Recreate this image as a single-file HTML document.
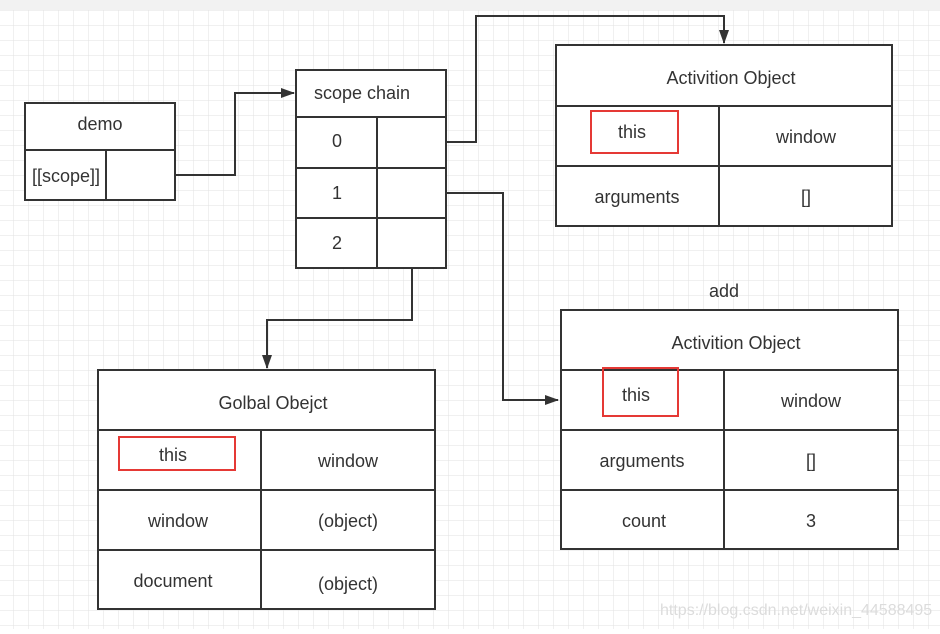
<!DOCTYPE html>
<html><head><meta charset="utf-8"><style>
html,body{margin:0;padding:0;background:#fff}
</style></head><body>
<svg width="940" height="629" xmlns="http://www.w3.org/2000/svg" font-family="Liberation Sans, DejaVu Sans, sans-serif" font-size="18" fill="#333">
<defs>
<pattern id="g" x="13" y="10" width="15" height="15" patternUnits="userSpaceOnUse">
<path d="M0 0H15M0 0V15" stroke="#e2e2e2" stroke-width="1" fill="none"/>
</pattern>
<marker id="a" markerWidth="14" markerHeight="12" refX="13" refY="6" orient="auto" markerUnits="userSpaceOnUse"><path d="M0 1L14 6L0 11Z" fill="#333"/></marker>
</defs>
<rect width="940" height="629" fill="url(#g)"/>
<rect width="940" height="10" fill="#f2f2f2"/>
<g stroke="#333" stroke-width="2" fill="none">
<path d="M175 175H235V93H294" marker-end="url(#a)"/>
<path d="M446 142H476V16H724V43" marker-end="url(#a)"/>
<path d="M446 193H503V400H558" marker-end="url(#a)"/>
<path d="M412 268V320H267V368" marker-end="url(#a)"/>
</g>
<g stroke="#333" stroke-width="2" fill="#fff">
<rect x="25" y="103" width="150" height="97"/>
<path d="M25 150H175M106 150V200"/>
<rect x="296" y="70" width="150" height="198"/>
<path d="M296 117H446M296 168H446M296 218H446M377 117V268"/>
<rect x="556" y="45" width="336" height="181"/>
<path d="M556 106H892M556 166H892M719 106V226"/>
<rect x="561" y="310" width="337" height="239"/>
<path d="M561 370H898M561 430H898M561 490H898M724 370V549"/>
<rect x="98" y="370" width="337" height="239"/>
<path d="M98 430H435M98 490H435M98 550H435M261 430V609"/>
</g>
<g fill="none" stroke="#e53935" stroke-width="2">
<rect x="591" y="111" width="87" height="42"/>
<rect x="603" y="368" width="75" height="48"/>
<rect x="119" y="437" width="116" height="33"/>
</g>
<g text-anchor="middle">
<text x="100" y="130">demo</text>
<text x="66" y="182">[[scope]]</text>
<text x="362" y="99">scope chain</text>
<text x="337" y="147">0</text>
<text x="337" y="199">1</text>
<text x="337" y="249">2</text>
<text x="731" y="84">Activition Object</text>
<text x="632" y="138">this</text>
<text x="806" y="143">window</text>
<text x="637" y="203">arguments</text>
<text x="806" y="203">[]</text>
<text x="724" y="297">add</text>
<text x="736" y="349">Activition Object</text>
<text x="636" y="401">this</text>
<text x="811" y="407">window</text>
<text x="642" y="467">arguments</text>
<text x="811" y="467">[]</text>
<text x="644" y="527">count</text>
<text x="811" y="527">3</text>
<text x="273" y="409">Golbal Obejct</text>
<text x="173" y="461">this</text>
<text x="348" y="467">window</text>
<text x="178" y="527">window</text>
<text x="348" y="527">(object)</text>
<text x="173" y="587">document</text>
<text x="348" y="590">(object)</text>
</g>
<text x="660" y="615" font-size="16" fill="#dcdcdc">https://blog.csdn.net/weixin_44588495</text>
</svg>
</body></html>
